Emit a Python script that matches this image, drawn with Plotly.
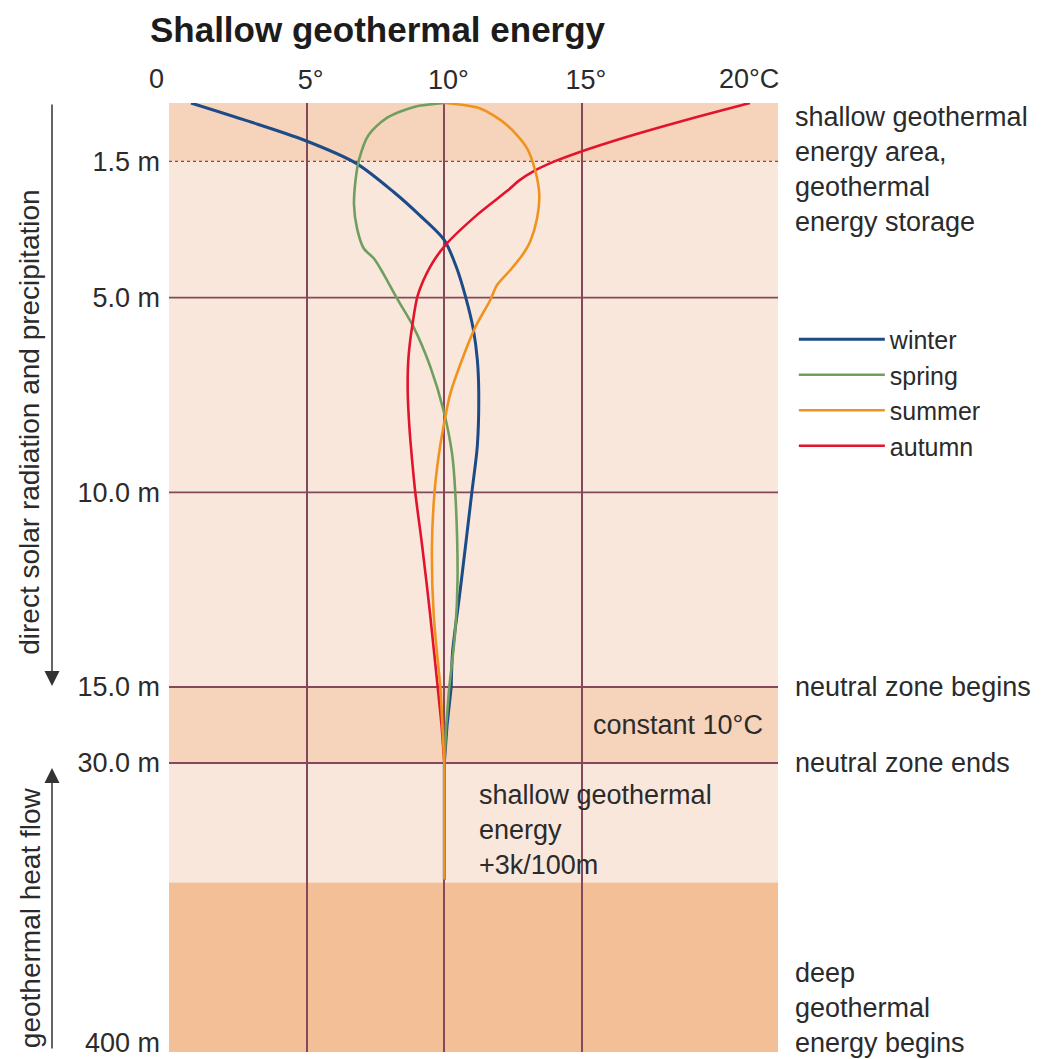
import plotly.graph_objects as go

# ---------------- data ----------------
seasons = ["winter", "spring", "summer", "autumn"]
colors = {"winter": "#1d4b87", "spring": "#6f9f5e", "summer": "#f0931e", "autumn": "#e2132b"}

# upper zone 0-15 m (depth in m, temperature in °C)
winter_depth = [0, 0.46, 0.95, 1.55, 2.28, 2.88, 3.52, 4.24, 5.0, 5.8, 6.6, 7.4, 8.8, 10.0, 12.5, 14.1, 15]
winter_temp = [0.8, 2.85, 4.9, 6.8, 8.15, 9.1, 10.0, 10.45, 10.78, 11.05, 11.2, 11.25, 11.2, 11.0, 10.58, 10.3, 10.25]

spring_depth = [0, 0.1, 0.39, 0.82, 1.46, 2.02, 2.62, 3.22, 3.73, 4.0, 4.4, 5.02, 5.75, 6.77, 7.89, 9.0, 10.03, 12.25, 13.54, 15]
spring_temp = [10.0, 8.9, 7.9, 7.25, 6.9, 6.77, 6.72, 6.83, 7.07, 7.45, 7.8, 8.28, 8.88, 9.49, 9.97, 10.28, 10.4, 10.48, 10.4, 10.18]

summer_depth = [0, 0.14, 0.57, 1.16, 1.76, 2.36, 2.96, 3.56, 3.86, 4.29, 4.68, 5.06, 5.75, 6.6, 7.46, 8.31, 9.09, 10.03, 11.4, 13.1, 15]
summer_temp = [10.0, 11.3, 12.28, 13.0, 13.31, 13.45, 13.37, 13.12, 12.88, 12.4, 11.91, 11.67, 11.13, 10.64, 10.22, 9.97, 9.79, 9.64, 9.55, 9.61, 9.86]

autumn_depth = [0, 0.25, 0.5, 0.75, 1.0, 1.25, 1.5, 1.75, 2.0, 2.25, 2.88, 3.65, 4.2, 4.93, 5.75, 6.52, 7.37, 8.31, 9.17, 10.03, 11.4, 13.1, 15]
autumn_temp = [21.1, 19.75, 18.45, 17.2, 16.03, 14.95, 14.0, 13.25, 12.7, 12.3, 11.18, 10.04, 9.49, 9.04, 8.83, 8.7, 8.67, 8.73, 8.83, 8.95, 9.2, 9.48, 9.76]

# neutral zone 15-30 m
neutral_depth = [15, 22.5, 30]
winter_neutral = [10.25, 10.1, 10.0]
spring_neutral = [10.18, 10.07, 10.0]
summer_neutral = [9.86, 9.94, 10.0]
autumn_neutral = [9.76, 9.9, 10.0]

# below the neutral zone (30 m down to the end of the shallow zone)
deep_depth = [30, 184]
deep_temp = [10.0, 10.0]

# zone boundaries (m)
zone_top_end = 1.5
neutral_start = 15
neutral_end = 30
deep_start = 188
axis_bottom = 411.9

x_tick_vals = [5, 10, 15]
x_tick_text = ["5°", "10°", "15°"]
y1_ticks = [1.5, 5, 10, 15]
y1_text = ["1.5 m", "5.0 m", "10.0 m", "15.0 m"]
y3_ticks = [30, 400]
y3_text = ["30.0 m", "400 m"]

upper = {"winter": (winter_depth, winter_temp), "spring": (spring_depth, spring_temp),
         "summer": (summer_depth, summer_temp), "autumn": (autumn_depth, autumn_temp)}
neutral = {"winter": winter_neutral, "spring": spring_neutral,
           "summer": summer_neutral, "autumn": autumn_neutral}

FONT = "Liberation Sans, Arial, Helvetica, sans-serif"
TXT = "#2b2b2b"
GRID = "#85485a"
BAND_DARK = "#f6d3bb"
BAND_LIGHT = "#fae7dc"
BAND_DEEP = "#f2bf97"
FS = 27

fig = go.Figure()

draw_order = ["winter", "spring", "autumn", "summer"]
for s in draw_order:
    rank = seasons.index(s) + 1
    d, t = upper[s]
    w = 3 if s == "winter" else 2.6
    fig.add_trace(go.Scatter(x=t, y=d, xaxis="x", yaxis="y", mode="lines", name=s,
                             line=dict(color=colors[s], width=w, shape="spline", smoothing=0.8),
                             legendgroup=s, legendrank=rank, showlegend=True))
    fig.add_trace(go.Scatter(x=neutral[s], y=neutral_depth, xaxis="x", yaxis="y2", mode="lines",
                             name=s, line=dict(color=colors[s], width=w),
                             legendgroup=s, legendrank=rank, showlegend=False))
    fig.add_trace(go.Scatter(x=deep_temp, y=deep_depth, xaxis="x", yaxis="y3", mode="lines",
                             name=s, line=dict(color=colors[s], width=w),
                             legendgroup=s, legendrank=rank, showlegend=False))

shapes = []
# bands
shapes.append(dict(type="rect", xref="paper", x0=0, x1=1, yref="y", y0=0, y1=zone_top_end,
                   fillcolor=BAND_DARK, line_width=0, layer="below"))
shapes.append(dict(type="rect", xref="paper", x0=0, x1=1, yref="y", y0=zone_top_end, y1=neutral_start,
                   fillcolor=BAND_LIGHT, line_width=0, layer="below"))
shapes.append(dict(type="rect", xref="paper", x0=0, x1=1, yref="y2", y0=neutral_start, y1=neutral_end,
                   fillcolor=BAND_DARK, line_width=0, layer="below"))
shapes.append(dict(type="rect", xref="paper", x0=0, x1=1, yref="y3", y0=neutral_end, y1=deep_start,
                   fillcolor=BAND_LIGHT, line_width=0, layer="below"))
shapes.append(dict(type="rect", xref="paper", x0=0, x1=1, yref="y3", y0=deep_start, y1=axis_bottom,
                   fillcolor=BAND_DEEP, line_width=0, layer="below"))
# horizontal depth lines
shapes.append(dict(type="line", xref="paper", x0=0, x1=1, yref="y", y0=zone_top_end, y1=zone_top_end,
                   line=dict(color=GRID, width=1.2, dash="dot"), layer="below"))
for yv in [5, 10]:
    shapes.append(dict(type="line", xref="paper", x0=0, x1=1, yref="y", y0=yv, y1=yv,
                       line=dict(color=GRID, width=1.8), layer="below"))
# zone boundary lines sit on the edge between two stacked axes: draw the half on each side
for ref, yv in [("y", neutral_start), ("y2", neutral_start), ("y2", neutral_end), ("y3", neutral_end)]:
    shapes.append(dict(type="line", xref="paper", x0=0, x1=1, yref=ref, y0=yv, y1=yv,
                       line=dict(color=GRID, width=2), layer="below"))

def tfont(size=FS):
    return dict(size=size, color=TXT, family=FONT)

ann = []
ann.append(dict(text="0", xref="x", x=0, yref="paper", y=1, xanchor="right", yanchor="middle",
                xshift=-3, yshift=24, showarrow=False, font=tfont()))
ann.append(dict(text="20°C", xref="x", x=20, yref="paper", y=1, xanchor="left", yanchor="middle",
                xshift=-3, yshift=24, showarrow=False, font=tfont()))

ann.append(dict(text="shallow geothermal<br>energy area,<br>geothermal<br>energy storage",
                xref="paper", x=1.025, yref="y", y=1.7, xanchor="left", yanchor="middle", align="left",
                showarrow=False, font=tfont()))
ann.append(dict(text="neutral zone begins", xref="paper", x=1.025, yref="y", y=neutral_start,
                xanchor="left", yanchor="middle", showarrow=False, font=tfont()))
ann.append(dict(text="neutral zone ends", xref="paper", x=1.025, yref="y3", y=neutral_end,
                xanchor="left", yanchor="middle", showarrow=False, font=tfont()))
ann.append(dict(text="deep<br>geothermal<br>energy begins", xref="paper", x=1.025, yref="y3", y=354,
                xanchor="left", yanchor="middle", align="left", showarrow=False, font=tfont()))
ann.append(dict(text="constant 10°C", xref="x", x=21.66, yref="y2", y=22.5, xanchor="right",
                yanchor="middle", showarrow=False, font=tfont()))
ann.append(dict(text="shallow geothermal<br>energy<br>+3k/100m", xref="x", x=11.2, yref="y3", y=119,
                xanchor="left", yanchor="middle", align="left", showarrow=False, font=tfont()))

# left side arrows and rotated labels
ann.append(dict(text="", xref="paper", x=-0.1921, yref="paper", y=0.3857, ax=0, ay=-583,
                showarrow=True, arrowhead=2, arrowsize=2, arrowwidth=1.5, arrowcolor="#333333"))
ann.append(dict(text="", xref="paper", x=-0.1921, yref="paper", y=0.2993, ax=0, ay=282,
                showarrow=True, arrowhead=2, arrowsize=2, arrowwidth=1.5, arrowcolor="#333333"))
ann.append(dict(text="direct solar radiation and precipitation", xref="paper", x=-0.2284,
                yref="paper", y=0.664, textangle=-90, xanchor="center", yanchor="middle",
                showarrow=False, font=tfont(28)))
ann.append(dict(text="geothermal heat flow", xref="paper", x=-0.2284,
                yref="paper", y=0.142, textangle=-90, xanchor="center", yanchor="middle",
                showarrow=False, font=tfont(28)))

# the page body adds an 8 px offset, so the figure is 8 px smaller than the window
fig.update_layout(
    width=1037, height=1051,
    margin=dict(l=161, r=267, t=95, b=7, autoexpand=False),
    paper_bgcolor="white", plot_bgcolor="rgba(0,0,0,0)",
    title=dict(text="Shallow geothermal energy", x=0.1369, xanchor="left", xref="container",
               y=0.979, yanchor="middle", yref="container",
               font=dict(size=35, color="#1c1c1c", family=FONT, weight="bold")),
    xaxis=dict(range=[0, 22.12], side="top", anchor="y", tickvals=x_tick_vals, ticktext=x_tick_text,
               showgrid=True, gridcolor=GRID, gridwidth=1.8, zeroline=False, showline=False,
               ticks="", ticklabelstandoff=8, ticklabelshift=4, automargin=False,
               tickfont=tfont(), fixedrange=True),
    yaxis=dict(domain=[0.3846, 1], range=[15, 0], anchor="x", tickvals=y1_ticks, ticktext=y1_text,
               showgrid=False, zeroline=False, showline=False, ticks="", ticklabelstandoff=8,
               automargin=False, tickfont=tfont()),
    yaxis2=dict(domain=[0.3045, 0.3846], range=[30, 15], anchor="x", tickvals=[], showgrid=False,
                zeroline=False, showline=False, ticks="", automargin=False),
    yaxis3=dict(domain=[0, 0.3045], range=[axis_bottom, 30], anchor="x", tickvals=y3_ticks,
                ticktext=y3_text, showgrid=False, zeroline=False, showline=False, ticks="",
                ticklabelstandoff=8, automargin=False, tickfont=tfont()),
    legend=dict(x=1.026, xanchor="left", y=0.775, yanchor="top", bgcolor="rgba(0,0,0,0)",
                font=tfont(25), itemwidth=86, traceorder="normal", tracegroupgap=0),
    shapes=shapes,
    annotations=ann,
    showlegend=True,
)

fig.write_html("out.html")
